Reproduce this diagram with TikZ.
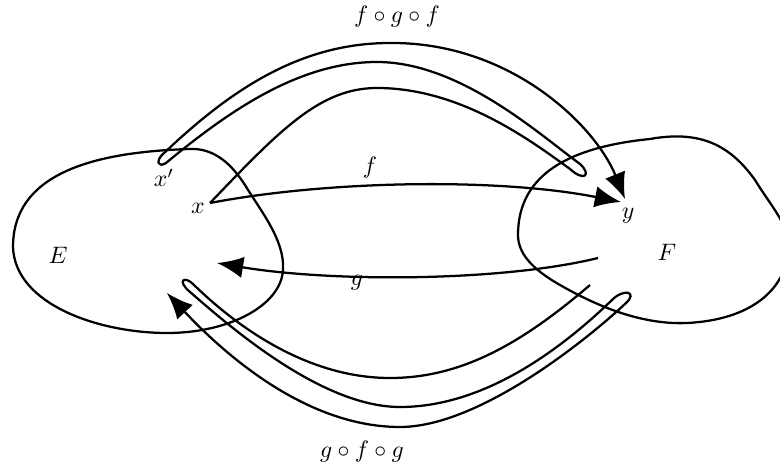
\documentclass[tikz,border=0pt]{standalone}
\usetikzlibrary{arrows.meta}
\begin{document}
\begin{tikzpicture}[x=0.42pt,y=0.42pt,line width=0.95pt,
  every node/.style={inner sep=0pt},
  arr/.style={-{Latex[length=11pt,width=9pt]}},
  blob/.style={line width=0.95pt}]
\useasboundingbox (0,0) rectangle (780,470);
% sets
\draw[blob] (13,223) .. controls (13,295) and (90,318) .. (190,321)
  .. controls (215,322) and (232,305) .. (245,285)
  .. controls (260,260) and (285,230) .. (283,200)
  .. controls (281,165) and (230,137) .. (167,137)
  .. controls (100,137) and (15,165) .. (13,223) -- cycle;
\draw[blob] (518,235) .. controls (518,290) and (560,322) .. (650,331)
  .. controls (700,340) and (730,325) .. (755,290)
  .. controls (772,262) and (790,245) .. (788,220)
  .. controls (786,180) and (750,150) .. (687,147)
  .. controls (640,145) and (595,165) .. (560,185)
  .. controls (530,202) and (518,218) .. (518,235) -- cycle;
% points
\coordinate (x) at (210,267);
\coordinate (yf) at (621,268);
\coordinate (yfgf) at (625,271);
\coordinate (gs) at (598,212);
\coordinate (ge) at (217,207);
\coordinate (gfgs) at (590,185);
\coordinate (gfge) at (167,177);
% labels
\node (lE) at (58,215) {$E$};
\node (lF) at (667,218) {$F$};
\node (lx) at (198,262) {$x$};
\node (lxp) at (164,292) {$x'$};
\node (ly) at (628,254) {$y$};
\node (lf) at (370,302) {$f$};
\node (lg) at (357,187) {$g$};
\node (lfgf) at (397,453) {$f\circ g\circ f$};
\node (lgfg) at (362,18) {$g\circ f\circ g$};
% f
\draw[arr] (x) .. controls (330,290) and (500,292) .. (yf);
% g
\draw[arr] (gs) .. controls (500,188) and (330,188) .. (ge);
% f o g o f
\draw[arr] (x) .. controls (280,340) and (320,382) .. (377,382)
  .. controls (460,382) and (530,330) .. (570,301)
  .. controls (584,288) and (592,295) .. (580,306)
  .. controls (540,335) and (460,408) .. (377,408)
  .. controls (300,408) and (230,360) .. (166,307)
  .. controls (158,302) and (156,309) .. (162,315)
  .. controls (230,380) and (300,427) .. (390,427)
  .. controls (510,428) and (595,345) .. (yfgf);
% g o f o g
\draw[arr] (gfgs) .. controls (520,125) and (460,92) .. (390,92)
  .. controls (310,92) and (240,140) .. (193,186)
  .. controls (185,194) and (176,190) .. (190,178)
  .. controls (226,147) and (320,63) .. (400,63)
  .. controls (480,63) and (555,115) .. (612,170)
  .. controls (624,182) and (638,178) .. (626,167)
  .. controls (590,133) and (480,43) .. (400,43)
  .. controls (310,43) and (230,110) .. (gfge);
\end{tikzpicture}
\end{document}
